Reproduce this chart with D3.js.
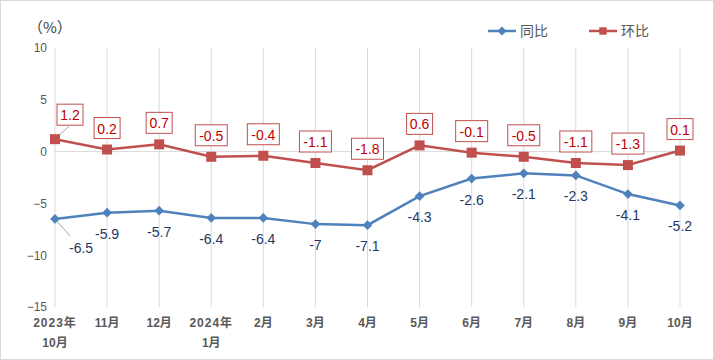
<!DOCTYPE html>
<html>
<head>
<meta charset="utf-8">
<script src="https://cdn.jsdelivr.net/npm/d3@7"></script>
<style>
body { margin: 0; background: #fff; }
text { font-family: "Liberation Sans", "Noto Sans CJK SC", sans-serif; }
</style>
</head>
<body>
<svg width="714" height="360"></svg>
<script>
var categories = [['2023年', '10月'], ['11月'], ['12月'], ['2024年', '1月'], ['2月'], ['3月'], ['4月'],
    ['5月'], ['6月'], ['7月'], ['8月'], ['9月'], ['10月']];
var yoy = [-6.5, -5.9, -5.7, -6.4, -6.4, -7, -7.1, -4.3, -2.6, -2.1, -2.3, -4.1, -5.2];
var mom = [1.2, 0.2, 0.7, -0.5, -0.4, -1.1, -1.8, 0.6, -0.1, -0.5, -1.1, -1.3, 0.1];
var yTicks = [10, 5, 0, -5, -10, -15];

var blue = '#4f81bd';
var red = '#c0504d';

var svg = d3.select('svg');

// outer frame
svg.append('rect')
    .attr('x', 0.5)
    .attr('y', 0.5)
    .attr('width', 713)
    .attr('height', 359)
    .style('fill', 'none')
    .style('stroke', '#d9d9d9');

var x = d3.scalePoint()
    .domain(d3.range(categories.length))
    .range([55, 680]);

var y = d3.scaleLinear()
    .domain([-15, 10])
    .range([307, 48]);

// vertical grid lines at categories
svg.append('g')
    .selectAll('line')
    .data(d3.range(categories.length))
    .enter()
    .append('line')
    .attr('x1', function(d){ return x(d); })
    .attr('x2', function(d){ return x(d); })
    .attr('y1', y(10))
    .attr('y2', y(-15))
    .style('stroke', '#d9d9d9')
    .style('stroke-width', 1);

// zero line
svg.append('line')
    .attr('x1', x(0))
    .attr('x2', x(categories.length - 1))
    .attr('y1', y(0))
    .attr('y2', y(0))
    .style('stroke', '#d9d9d9');

// y axis labels
var yAxis = d3.axisLeft(y).tickValues(yTicks).tickSize(0).tickPadding(0);
var gy = svg.append('g')
    .attr('transform', 'translate(47,0)')
    .call(yAxis);
gy.select('.domain').remove();
gy.selectAll('text')
    .style('font-size', '12px')
    .style('fill', '#595959');

svg.append('text')
    .attr('x', 28)
    .attr('y', 33)
    .text('（%）')
    .style('font-size', '15px')
    .style('font-family', '"Noto Sans CJK SC", sans-serif')
    .style('fill', '#404040')
    .attr('text-anchor', 'start');

// x labels
var xl = svg.append('g')
    .selectAll('text')
    .data(categories)
    .enter()
    .append('text')
    .attr('text-anchor', 'middle')
    .style('font-size', '12px')
    .style('font-weight', 'bold')
    .style('fill', '#595959');
xl.each(function(d, i){
    var t = d3.select(this);
    d.forEach(function(s, j){
        t.append('tspan')
            .attr('x', x(i))
            .attr('y', 327 + j * 20)
            .style('letter-spacing', s.indexOf('年') >= 0 ? '1px' : '0px')
            .text(s);
    });
});

var line = d3.line()
    .x(function(d, i){ return x(i); })
    .y(function(d){ return y(d); });

// leader lines for the first labels
svg.append('line')
    .attr('x1', x(0)).attr('y1', y(yoy[0]))
    .attr('x2', x(0) + 15).attr('y2', y(yoy[0]) + 17)
    .style('stroke', '#a6a6a6');
svg.append('line')
    .attr('x1', x(0)).attr('y1', y(mom[0]))
    .attr('x2', x(0) + 14).attr('y2', y(mom[0]) - 13)
    .style('stroke', '#a6a6a6');

// yoy series
svg.append('path')
    .datum(yoy)
    .attr('d', line)
    .style('fill', 'none')
    .style('stroke', blue)
    .style('stroke-width', 2.5);

svg.append('g')
    .selectAll('path')
    .data(yoy)
    .enter()
    .append('path')
    .attr('d', d3.symbol().type(d3.symbolDiamond2).size(60))
    .attr('transform', function(d, i){ return 'translate(' + x(i) + ',' + y(d) + ')'; })
    .style('fill', blue);

svg.append('g')
    .selectAll('text')
    .data(yoy)
    .enter()
    .append('text')
    .attr('x', function(d, i){ return i == 0 ? x(i) + 14 : x(i); })
    .attr('y', function(d, i){ return y(d) + (i == 0 ? 34 : 26); })
    .attr('text-anchor', function(d, i){ return i == 0 ? 'start' : 'middle'; })
    .style('font-size', '14px')
    .style('fill', '#1f3864')
    .text(function(d){ return d; });

// mom series
svg.append('path')
    .datum(mom)
    .attr('d', line)
    .style('fill', 'none')
    .style('stroke', red)
    .style('stroke-width', 2.5);

svg.append('g')
    .selectAll('rect')
    .data(mom)
    .enter()
    .append('rect')
    .attr('x', function(d, i){ return x(i) - 5; })
    .attr('y', function(d){ return y(d) - 5; })
    .attr('width', 10)
    .attr('height', 10)
    .style('fill', red);

var boxes = svg.append('g')
    .selectAll('g')
    .data(mom)
    .enter()
    .append('g')
    .attr('transform', function(d, i){
        var cx = i == 0 ? x(i) + 15 : x(i);
        var cy = i == 0 ? y(d) - 24 : y(d) - 21;
        return 'translate(' + cx + ',' + cy + ')';
    });
boxes.append('rect')
    .attr('x', function(d){ return d < 0 ? -16 : -13; })
    .attr('y', -11)
    .attr('width', function(d){ return d < 0 ? 32 : 26; })
    .attr('height', 21)
    .style('fill', '#fff')
    .style('stroke', red)
    .style('stroke-width', 1);
boxes.append('text')
    .attr('text-anchor', 'middle')
    .attr('y', 5)
    .style('font-size', '14px')
    .style('fill', '#c00000')
    .text(function(d){ return d; });

// legend
var legend = [['同比', blue, 'diamond'], ['环比', red, 'square']];
var lg = svg.append('g')
    .selectAll('g')
    .data(legend)
    .enter()
    .append('g')
    .attr('transform', function(d, i){ return 'translate(' + (488 + i * 101) + ',31)'; });
lg.append('line')
    .attr('x1', 0).attr('x2', 28)
    .style('stroke', function(d){ return d[1]; })
    .style('stroke-width', 2.5);
lg.append('path')
    .attr('d', function(d){
        return d3.symbol().type(d[2] == 'diamond' ? d3.symbolDiamond2 : d3.symbolSquare2).size(d[2] == 'diamond' ? 50 : 70)();
    })
    .attr('transform', 'translate(14,0)')
    .style('fill', function(d){ return d[1]; });
lg.append('text')
    .attr('x', 32)
    .attr('y', 5)
    .style('font-size', '14px')
    .style('fill', '#595959')
    .style('font-family', '"Noto Sans CJK SC", sans-serif')
    .text(function(d){ return d[0]; });
</script>
</body>
</html>
